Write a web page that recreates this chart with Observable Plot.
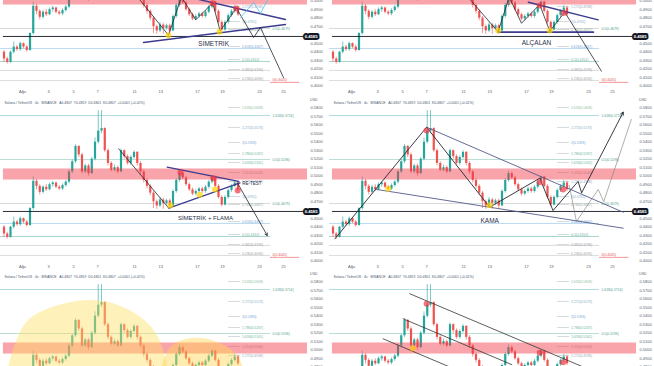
<!DOCTYPE html>
<html><head><meta charset="utf-8">
<script src="https://cdn.jsdelivr.net/npm/d3@7"></script>
<script src="https://cdn.jsdelivr.net/npm/@observablehq/plot@0.6"></script>
<style>
html,body{margin:0;padding:0;background:#fff;}
#wrap{position:relative;width:654px;height:366px;overflow:hidden;background:#fff;font-family:"Liberation Sans",Arial,sans-serif;}
.panel{position:absolute;width:327px;height:175px;overflow:hidden;}
</style></head><body><div id="wrap"></div>
<script>
// ---- candle data ----
const opens  = [.440,.432,.428,.440,.446,.443,.450,.446,.442,.462,.494,.488,.481,.487,.484,.490,.492,.487,.485,.489,.493,.505,.517,.535,.525,.505,.512,.503,.520,.540,.553,.556,.530,.515,.507,.510,.505,.530,.523,.515,.522,.528,.515,.505,.495,.488,.480,.470,.465,.472,.468,.471,.465,.482,.495,.503,.498,.490,.484,.479,.482,.485,.482,.487,.493,.499,.488,.475,.466,.475,.483,.488,.492];
const closes = [.432,.428,.440,.446,.443,.450,.446,.442,.462,.494,.488,.481,.487,.484,.490,.492,.487,.485,.489,.493,.505,.517,.535,.525,.505,.512,.503,.520,.540,.553,.556,.530,.515,.507,.510,.505,.530,.523,.515,.522,.528,.515,.505,.495,.488,.480,.470,.465,.472,.468,.471,.465,.482,.495,.503,.498,.490,.484,.479,.482,.485,.482,.487,.493,.499,.488,.475,.466,.475,.483,.488,.492,.484];
const highs  = [.442,.434,.441,.452,.448,.452,.451,.448,.463,.499,.496,.490,.489,.490,.492,.494,.493,.489,.491,.495,.507,.519,.537,.536,.527,.514,.514,.522,.545,.577,.577,.557,.532,.517,.513,.512,.532,.531,.525,.524,.530,.529,.517,.507,.497,.490,.482,.472,.475,.474,.473,.473,.484,.497,.506,.505,.500,.492,.486,.484,.487,.487,.489,.495,.500,.500,.490,.477,.477,.485,.490,.495,.494];
const lows   = [.428,.426,.427,.438,.441,.441,.444,.440,.441,.460,.484,.478,.479,.482,.483,.487,.485,.483,.483,.487,.491,.503,.515,.522,.503,.503,.500,.502,.518,.538,.550,.528,.512,.505,.505,.503,.504,.520,.513,.513,.520,.512,.502,.492,.485,.477,.462,.461,.463,.461,.466,.461,.464,.480,.493,.496,.488,.482,.477,.477,.480,.480,.480,.485,.491,.486,.473,.464,.465,.473,.481,.486,.482];
const lastPrice = 0.4585;

// ---- axes (the 0.4600 slot is covered by the current-price tag) ----
const yTicks = [0.40,0.41,0.42,0.43,0.44,0.45,0.47,0.48,0.49,0.50,0.51,0.52,0.53,0.54,0.55,0.56,0.57,0.58];
const dateIdx = [5.7,13.7,21.4,28.8,40.2,48.2,59.5,67.2,78.6,86.0];
const dateLabels = ["Ağu","3","5","7","11","13","17","19","23","25"];

// ---- zone + fibonacci levels ----
const zone = {low: 0.4955, high: 0.5085};
const fibShortLevels = [0.5808,0.5573,0.5396,0.5267,0.5161,0.5044,0.4938,0.4761,0.4667,0.4467,0.4314,0.4196,0.4090];
const fibShortRatios = ["2.618","2.272","2","1.786","1.618","1.414","1.272","1","0.786","0.618","0.5","0.382","0.236"];
const fibShortColors = ["#8fbf9f","#7fb0c8","#7aa6d6","#6fb59a","#6fb59a","#b0b0b0","#9aa9b8","#7fb0c8","#9ab0a0","#7aa6d6","#6fb59a","#9aa0a6","#9aa0a6"];
const fibLongLevels = [0.5714,0.5196,0.4679,0.4444,0.4291,0.4186,0.4068];
const fibLongColors = ["#9fd0dc","#a8d6cc","#cfcfcf","#a9d2ea","#8fc9c0","#d2d2d2","#d2d2d2"];
const fibLongLabels = ["1.618(0.5714)","0.5(0.5196)","0.5(0.4679)","","","",""];
const fibRedLevel = 0.4045;

// ---- panel annotations (index, price) ----
const tlZigzag = [[35.3,0.5322],[50.6,0.4600],[54.6,0.5050],[59,0.4780],[64.2,0.4980],[66.5,0.4650],[71.5,0.4920],[76.8,0.4573],[78.9,0.4691],[86,0.4102]];
const tlAlt = [[72.8,0.4808],[76.8,0.4985],[78.9,0.4855],[82,0.5080]];
const tlUpper = [[56,0.5055],[86.6,0.4785]];
const tlLower = [[42.9,0.4514],[86.6,0.4726]];
const tlYellow = [[50.6,0.4600],[66.3,0.4640]];
const tlRed = [[64.2,0.4975],[71.5,0.4915]];

const trZigzag = [[35.3,0.5322],[50.8,0.4640],[54.2,0.5050],[58,0.4740],[63.6,0.4961],[66.7,0.4647],[71.3,0.4871],[82.6,0.4176]];
const trSupport = [[50.8,0.4635],[80.1,0.4635]];
const trUpper = [[60.1,0.4988],[81.6,0.4781]];
const trYellow = [[50.8,0.4655],[66.7,0.4655]];
const trRed = [[63.6,0.4950],[71,0.4860]];

const mlZigzag = [[35.3,0.5322],[50.7,0.4624]];
const mlArrow = [[71.8,0.4922,81,0.4302]];
const mlUpper = [[50.2,0.5106],[72.2,0.4938]];
const mlLower = [[50.7,0.4624],[72.6,0.4922]];
const mlYellow = [[51.2,0.4655],[60.2,0.4781],[64.9,0.4844]];
const mlRed = [[54.3,0.5043],[64.4,0.4976],[71.9,0.4832]];

const mrZigzag = [[0.6,0.4263],[28.8,0.5576],[48.2,0.4635],[63.6,0.4976],[67.7,0.4596],[75.4,0.4938],[76.5,0.4805]];
const mrArrow = [[76.5,0.4805,89.3,0.5753]];
const mrAlt = [[72.7,0.4891],[74.9,0.4467],[81.6,0.4844],[83.3,0.4702],[91.8,0.5667]];
const mrUpper = [[28.8,0.5576],[89.3,0.4576]];
const mrLower = [[13.4,0.4844],[89.3,0.4388]];
const mrYellow = [[17,0.4852],[48.2,0.4659]];
const mrRed = [[28.8,0.5537],[63.6,0.4929],[70.8,0.4844]];

const blDome1 = [[0.15,0.4538],[2.0,0.4891],[5.08,0.5208],[11.23,0.5444],[26.6,0.5585],[39.8,0.5444],[47.2,0.5173],[50.3,0.4820],[51.8,0.4538]];
const blDome2 = [[46.9,0.4538],[48.8,0.4820],[52.1,0.5055],[59.5,0.5141],[66.6,0.5075],[72.2,0.4914],[74.3,0.4655]];

const brLine1 = [[23.6,0.5664],[80.5,0.4746]];
const brLine2 = [[21.6,0.5369],[55,0.4830]];
const brLine3 = [[15.4,0.5134],[40,0.4737]];
const brRed = [[28.8,0.5546],[63.6,0.4969],[70.8,0.4859]];
const brYellow = [[24.5,0.5024]];

const panelLabels = {
  tl: [{t:"SİMETRİK", x:64.5, y:0.4502, s:6.5, a:"middle"}],
  tr: [{t:"ALÇALAN", x:62.6, y:0.4506, s:6.5, a:"middle"}],
  ml: [{t:"SİMETRİK + FLAMA", x:62, y:0.4502, s:6, a:"middle"},{t:"RE-TEST", x:73.3, y:0.4911, s:4.5, a:"start"}],
  mr: [{t:"KAMA", x:48.2, y:0.4479, s:6.5, a:"middle"}],
  bl: [], br: []
};
const headerText = "Solana / TetherUS · 4s · BINANCE   A0.4807  Y0.4819  D0.4801  K0.4807  +0.0001 (+0.02%)";

// ---- layout ----
const xDom = [-1.077, 93.38];
const yDom = [0.3973, 0.5949];
const UP = "#26a69a", DOWN = "#ef5350", NAVY = "#3b3c8e", INK = "#222631";
const candles = opens.map((o,i)=>({i, o, c: closes[i], h: highs[i], l: lows[i]}));
const X = d=>d[0], Y = d=>d[1];

function base(pre, post) {
  const fibShort = fibShortLevels.map((v,k)=>({v, t: fibShortRatios[k]+"("+v.toFixed(4)+")", c: fibShortColors[k]}));
  const fibLong = fibLongLevels.map((v,k)=>({v, t: fibLongLabels[k], c: fibLongColors[k]}));
  return [
    ...pre,
    Plot.ruleY(fibLong, {y:"v", x1: xDom[0], x2: 82, stroke:"c", strokeWidth:0.8}),
    Plot.text(fibLong.filter(d=>d.t), {y:"v", x: 82.6, text:"t", fill:"#4fa08c", fontSize:3.4, textAnchor:"start"}),
    Plot.ruleY(fibShort, {y:"v", x1: 69.1, x2: 72.8, stroke:"#b9c2c6", strokeWidth:0.6}),
    Plot.text(fibShort, {y:"v", x: 73.2, text:"t", fill:"c", fontSize:3.4, textAnchor:"start"}),
    Plot.ruleY([fibRedLevel], {x1: 82, x2: 91, stroke:"#ef5350", strokeWidth:0.6}),
    Plot.text([fibRedLevel], {y: d=>d, x: 82.6, dy:-2, text: d=>"0("+d.toFixed(4)+")", fill:"#e05555", fontSize:3.4, textAnchor:"start"}),
    Plot.ruleX(candles, {x:"i", y1:"l", y2:"h", stroke: d=> d.c>=d.o ? UP : DOWN, strokeWidth:0.6}),
    Plot.ruleX(candles, {x:"i", y1:"o", y2:"c", stroke: d=> d.c>=d.o ? UP : DOWN, strokeWidth:2.2}),
    Plot.rect([zone], {x1: xDom[0]+0.9, x2: xDom[1], y1:"low", y2:"high", fill:"#f23645", fillOpacity:0.45}),
    Plot.ruleY([lastPrice], {x1: xDom[0]+0.9, x2: xDom[1], stroke:"#131722", strokeWidth:0.9}),
    ...post,
    Plot.text([lastPrice], {y: d=>d, frameAnchor:"right", dx:10, text: d=>d.toFixed(4), fill:"white", stroke:"#131722", strokeWidth:4, fontSize:4.2, fontWeight:"bold"}),
    Plot.axisY(yTicks, {anchor:"right", tickSize:0, tickPadding:3, fontSize:4, fill:"#5d606b", tickFormat: d=>d.toFixed(4), label:null}),
    Plot.axisX(dateIdx, {anchor:"bottom", tickSize:0, tickPadding:1.5, fontSize:4, fill:"#5d606b", tickFormat: d=>dateLabels[dateIdx.indexOf(d)], label:null}),
    Plot.text(["USD"], {frameAnchor:"top-right", dx:10, dy:3, text: d=>d, fontSize:3.5, fill:"#5d606b"}),
    Plot.text([headerText], {frameAnchor:"top-left", dx:4, dy:6, text: d=>d, fontSize:3.4, fill:"#4a5a70", textAnchor:"start"})
  ];
}
const lineM = (pts, stroke, w) => Plot.line(pts, {x:X, y:Y, stroke, strokeWidth:w});
const dots = (pts, fill) => Plot.dot(pts, {x:X, y:Y, r:3, fill, fillOpacity:0.7, stroke:"none"});
const labelsStart = key => panelLabels[key].map(d => Plot.text([d], {x:"x", y:"y", text:"t", fontSize:d.s, textAnchor:d.a, fill:"#2c3048"}));

const panels = {
  tl: {left:0, top:-80, pre:[], post:[
    lineM(tlUpper, NAVY, 1.4), lineM(tlLower, NAVY, 1.4),
    lineM(tlZigzag, INK, 0.8), lineM(tlAlt, "#4fc3f7", 0.8),
    dots(tlYellow, "#ffd600"), dots(tlRed, "#f23645")]},
  tr: {left:329, top:-80, pre:[], post:[
    lineM(trUpper, NAVY, 1.4), lineM(trSupport, NAVY, 1.8),
    lineM(trZigzag, INK, 0.8),
    dots(trYellow, "#ffd600"), dots(trRed, "#f23645")]},
  ml: {left:0, top:95, pre:[], post:[
    lineM(mlUpper, NAVY, 1.3), lineM(mlLower, NAVY, 1.3),
    lineM(mlZigzag, INK, 0.8),
    Plot.arrow(mlArrow, {x1:d=>d[0], y1:d=>d[1], x2:d=>d[2], y2:d=>d[3], stroke:INK, strokeWidth:0.8, headLength:5}),
    dots(mlYellow, "#ffd600"), dots(mlRed, "#f23645")]},
  mr: {left:329, top:95, pre:[], post:[
    lineM(mrUpper, "#555a8a", 0.9), lineM(mrLower, "#555a8a", 0.9),
    lineM(mrZigzag, INK, 0.9), lineM(mrAlt, "#777", 0.6),
    Plot.arrow(mrArrow, {x1:d=>d[0], y1:d=>d[1], x2:d=>d[2], y2:d=>d[3], stroke:INK, strokeWidth:0.9, headLength:5}),
    dots(mrYellow, "#ffd600"), dots(mrRed, "#f23645")]},
  bl: {left:0, top:269, pre:[], post:[
    Plot.areaY(blDome1, {x:X, y1:0.40, y2:Y, curve:"natural", fill:"#ffe066", fillOpacity:0.45}),
    Plot.areaY(blDome2, {x:X, y1:0.40, y2:Y, curve:"natural", fill:"#ffd54f", fillOpacity:0.45})]},
  br: {left:329, top:269, pre:[], post:[
    lineM(brLine1, "#333", 0.8), lineM(brLine2, "#333", 0.8), lineM(brLine3, "#333", 0.8),
    dots(brYellow, "#ffc400"), dots(brRed, "#f23645")]}
};

const wrap = document.getElementById("wrap");
for (const [key, p] of Object.entries(panels)) {
  const div = document.createElement("div");
  div.className = "panel";
  div.style.left = p.left + "px";
  div.style.top = p.top + "px";
  const svg = Plot.plot({
    width: 327, height: 175,
    marginLeft: 0, marginRight: 20, marginTop: 0, marginBottom: 7,
    x: {domain: xDom}, y: {domain: yDom},
    style: {background: "white", fontFamily: "'Liberation Sans', Arial, sans-serif"},
    marks: [...base(p.pre, p.post), ...labelsStart(key)]
  });
  div.appendChild(svg);
  wrap.appendChild(div);
}
</script></body></html>
